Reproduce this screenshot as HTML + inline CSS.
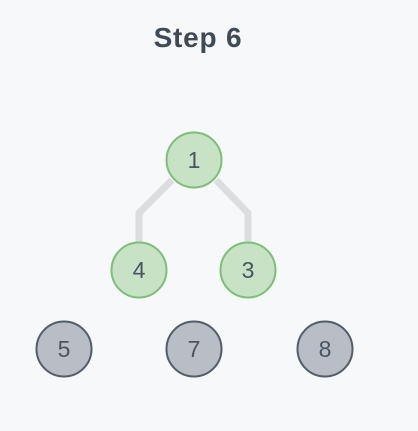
<!DOCTYPE html>
<html><head><meta charset="utf-8"><style>
html,body{margin:0;padding:0;background:#f7f8fa;}
svg{display:block}
</style></head><body>
<svg width="418" height="431" viewBox="0 0 418 431" xmlns="http://www.w3.org/2000/svg">
<rect width="418" height="431" fill="#f7f8fa"/>
<text x="198" y="47" text-anchor="middle" font-family="'Liberation Sans',sans-serif" font-weight="bold" font-size="28" letter-spacing="0.8" fill="#3f4a57">Step 6</text>
<g fill="none" stroke="#dcdddf" stroke-width="7" stroke-linejoin="miter">
<polyline points="172,180 139,213 139,244"/>
<polyline points="216,180 248,213 248,244"/>
</g>
<g font-family="'Liberation Sans',sans-serif" font-size="23" text-anchor="middle" fill="#4a5563">
<circle cx="194" cy="160" r="27.5" fill="#c8e2c6" stroke="#7cbf76" stroke-width="2"/>
<text x="194" y="168">1</text>
<circle cx="139" cy="270" r="27.5" fill="#c8e2c6" stroke="#7cbf76" stroke-width="2"/>
<text x="139" y="278">4</text>
<circle cx="248" cy="270" r="27.5" fill="#c8e2c6" stroke="#7cbf76" stroke-width="2"/>
<text x="248" y="278">3</text>
<circle cx="64" cy="349" r="27.5" fill="#b9bec6" stroke="#535d68" stroke-width="2"/>
<text x="64" y="357">5</text>
<circle cx="194" cy="349" r="27.5" fill="#b9bec6" stroke="#535d68" stroke-width="2"/>
<text x="194" y="357">7</text>
<circle cx="325" cy="349" r="27.5" fill="#b9bec6" stroke="#535d68" stroke-width="2"/>
<text x="325" y="357">8</text>
</g>
</svg>
</body></html>
